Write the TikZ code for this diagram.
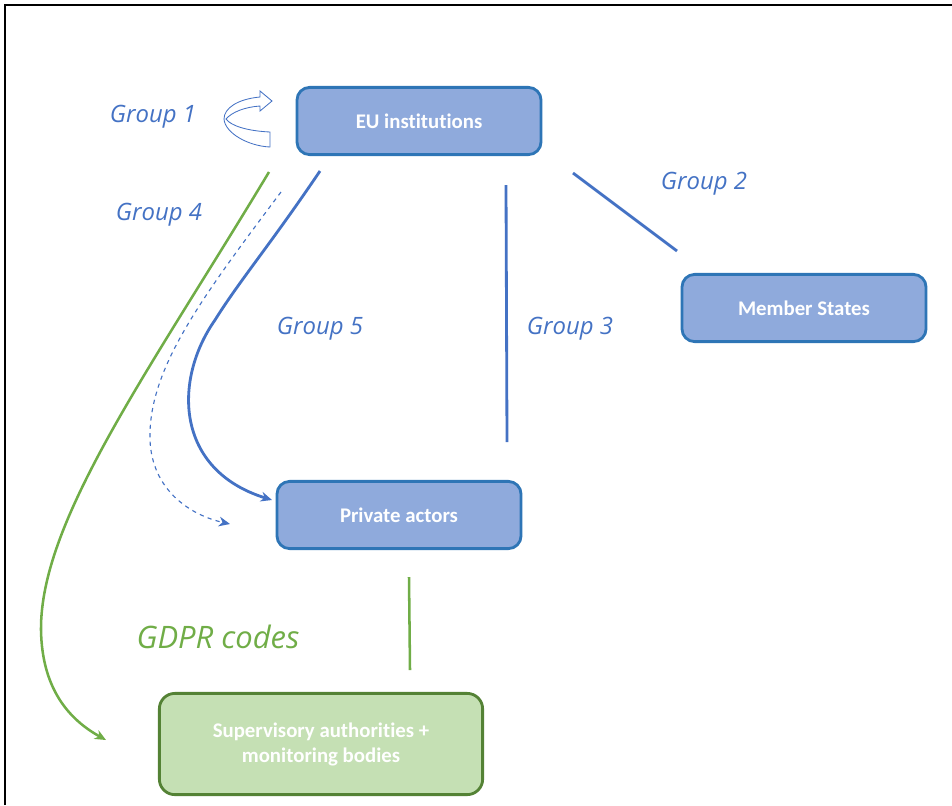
\documentclass[tikz,border=0pt]{standalone}
\usepackage{fontspec}
\setmainfont{Carlito}[Ligatures=NoCommon]
\newfontfamily\grpfont{Open Sans}
\usetikzlibrary{arrows.meta}

\definecolor{boxfill}{HTML}{8FAADC}
\definecolor{boxedge}{HTML}{2E75B6}
\definecolor{grnfill}{HTML}{C5E0B4}
\definecolor{grnedge}{HTML}{548235}
\definecolor{lnblue}{HTML}{4472C4}
\definecolor{lngreen}{HTML}{70AD47}

\begin{document}
\begin{tikzpicture}[x=0.025cm,y=-0.025cm,
  bluebox/.style={draw=boxedge,fill=boxfill,line width=2pt,rounded corners=9pt,
    text=white,font=\bfseries\fontsize{14.8}{17.8}\selectfont,
    minimum width=6.1cm,minimum height=1.68cm},
  greenbox/.style={draw=grnedge,fill=grnfill,line width=2pt,rounded corners=11pt,
    text=white,font=\bfseries\fontsize{14.8}{17.8}\selectfont,align=center,
    minimum width=8.08cm,minimum height=2.53cm},
  grouplabel/.style={text=lnblue,font=\grpfont\itshape\fontsize{17}{20}\selectfont},
  blueline/.style={draw=lnblue,line width=2pt},
  greenline/.style={draw=lngreen,line width=1.8pt}]

\useasboundingbox (0,0) rectangle (952,805);
\draw [line width=1.5pt] (5,805) -- (5,5) -- (952,5) ;

\node [bluebox] (eu) at (419,121) {EU institutions};
\node [bluebox] (ms) at (804,308) {Member States};
\node [bluebox] (pa) at (399,515) {Private actors};
\node [greenbox] (sa) at (321,744) {Supervisory authorities +\\monitoring bodies};

\node [grouplabel] (g1) at (153,117) {Group 1};
\node [grouplabel] (g2) at (704,184) {Group 2};
\node [grouplabel] (g3) at (570,329) {Group 3};
\node [grouplabel] (g4) at (159,215) {Group 4};
\node [grouplabel] (g5) at (320,329) {Group 5};
\node [text=lngreen,font=\grpfont\itshape\fontsize{22}{26}\selectfont] (gdpr) at (218,637) {GDPR codes};

\coordinate (g2a) at (573,173) ;
\coordinate (g2b) at (677,251) ;
\coordinate (g3a) at (506,185) ;
\coordinate (g3b) at (507,442) ;
\coordinate (gca) at (409,577) ;
\coordinate (gcb) at (410,670) ;
\coordinate (g5a) at (320,171) ;
\coordinate (g5b) at (272,500) ;
\coordinate (dsa) at (281,192) ;
\coordinate (dsb) at (230,524) ;
\coordinate (g4a) at (269,172) ;
\coordinate (g4b) at (106,740) ;

\draw [blueline] (g2a) -- (g2b) ;
\draw [blueline] (g3a) -- (g3b) ;
\draw [greenline] (gca) -- (gcb) ;
\draw [blueline,-{Stealth[length=8pt,width=7pt]}] (g5a) .. controls (270,245) and (240,280) .. (215,320) .. controls (173,380) and (175,470) .. (g5b) ;
\draw [draw=lnblue,line width=0.8pt,dashed,-{Stealth[length=8pt,width=7pt]}] (dsa) .. controls (200,300) and (148,370) .. (150,440) .. controls (152,490) and (190,515) .. (dsb) ;
\draw [greenline,-{Stealth[length=8pt,width=7pt]}] (g4a) .. controls (150,370) and (40,520) .. (41,630) .. controls (42,690) and (70,720) .. (g4b) ;

% group 1 arrow
\draw [lnblue,line width=0.6pt] (260,97) .. controls (238,99) and (224,108) .. (224,119) .. controls (225,133) and (248,146) .. (270,147) -- (270,132) .. controls (248,131) and (231,126) .. (226,119) .. controls (232,112) and (245,107) .. (260,106) -- (260,111) -- (272,101) -- (260,91) -- cycle ;

\end{tikzpicture}
\end{document}
